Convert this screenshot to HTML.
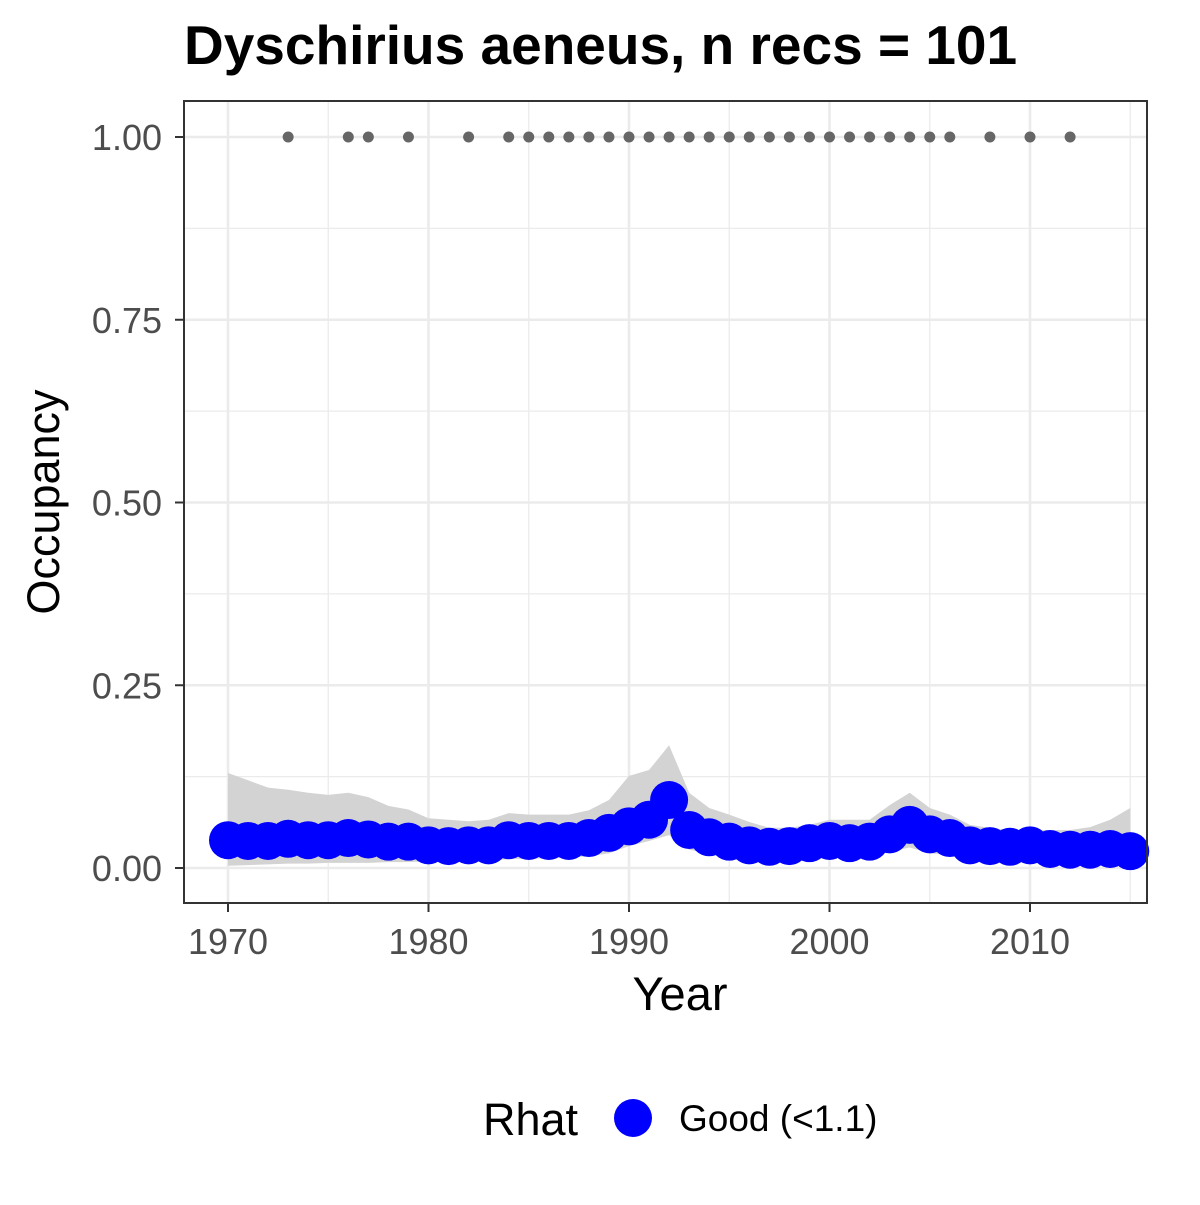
<!DOCTYPE html>
<html><head><meta charset="utf-8"><style>
body{margin:0;background:#fff}
svg text{font-family:"Liberation Sans",Arial,sans-serif}
</style></head><body>
<svg id="chart" width="1200" height="1200" xmlns="http://www.w3.org/2000/svg">
<rect width="1200" height="1200" fill="#fff"/>
<text x="184" y="64" font-size="55" font-weight="bold" fill="#000">Dyschirius aeneus, n recs = 101</text>
<g id="grid"></g>
<g id="band"></g>
<g id="raw"></g>
<g id="pts"></g>
<rect x="184" y="101" width="963" height="802" fill="none" stroke="#333" stroke-width="2"/>
<g id="axes"></g>
<text x="680" y="1010" font-size="47" text-anchor="middle">Year</text>
<text transform="translate(59,502) rotate(-90)" font-size="45" text-anchor="middle">Occupancy</text>
<g>
<text x="483" y="1135" font-size="45">Rhat</text>
<circle cx="633" cy="1118" r="19" fill="#0000ff"/>
<text x="679" y="1131" font-size="37">Good (&lt;1.1)</text>
</g>
</svg>
<script>
const years=[];for(let y=1970;y<=2015;y++)years.push(y);
const occupancy=[0.038,0.037,0.037,0.040,0.038,0.038,0.041,0.039,0.036,0.036,0.031,0.030,0.031,0.031,0.038,0.037,0.037,0.037,0.041,0.048,0.057,0.066,0.093,0.052,0.042,0.036,0.031,0.029,0.030,0.034,0.037,0.034,0.036,0.046,0.059,0.046,0.041,0.031,0.030,0.029,0.031,0.026,0.025,0.025,0.026,0.023];
const upper=[0.130,0.120,0.110,0.107,0.103,0.100,0.103,0.097,0.085,0.080,0.068,0.066,0.064,0.066,0.075,0.073,0.073,0.073,0.079,0.093,0.126,0.134,0.168,0.103,0.082,0.073,0.063,0.055,0.055,0.059,0.066,0.066,0.066,0.086,0.103,0.082,0.073,0.059,0.055,0.052,0.052,0.052,0.052,0.056,0.066,0.082];
const lower=[0.003,0.004,0.005,0.006,0.006,0.007,0.007,0.007,0.008,0.008,0.009,0.009,0.010,0.010,0.012,0.013,0.013,0.014,0.016,0.020,0.030,0.037,0.045,0.025,0.020,0.018,0.016,0.015,0.015,0.017,0.018,0.018,0.019,0.022,0.028,0.020,0.018,0.014,0.013,0.013,0.013,0.012,0.012,0.012,0.012,0.012];
const rawYears=[1973,1976,1977,1979,1982,1984,1985,1986,1987,1988,1989,1990,1991,1992,1993,1994,1995,1996,1997,1998,1999,2000,2001,2002,2003,2004,2005,2006,2008,2010,2012];
const xTicks=[1970,1980,1990,2000,2010];
const yTicks=[0,0.25,0.5,0.75,1];
const yTickLabels=["0.00","0.25","0.50","0.75","1.00"];
const X=v=>228+(v-1970)*20.05;
const Y=v=>868-v*731;
const NS="http://www.w3.org/2000/svg";
function mk(p,t,a){const e=document.createElementNS(NS,t);for(const k in a)e.setAttribute(k,a[k]);document.getElementById(p).appendChild(e);return e;}
for(let v=1965;v<=2015;v+=5){const x=X(v);if(x<184||x>1147)continue;const e=mk('grid','line',{x1:x,x2:x,y1:101,y2:903,stroke:'#ebebeb','stroke-width':v%10==0?2.6:1.3});

}
for(let v=0;v<=1.001;v+=0.125){const y=Y(v);const e=mk('grid','line',{x1:184,x2:1147,y1:y,y2:y,stroke:'#ebebeb','stroke-width':Math.round(v*8)%2==0?2.6:1.3});

}
let d='M'+years.map((y,i)=>X(y)+','+Y(upper[i])).join('L');
for(let i=years.length-1;i>=0;i--)d+='L'+X(years[i])+','+Y(lower[i]);
const b=mk('band','path',{d:d+'Z',fill:'#d3d3d3'});


rawYears.forEach(y=>{const c=mk('raw','circle',{cx:X(y),cy:Y(1),r:5.5,fill:'#666'});

});
years.forEach((y,i)=>{const c=mk('pts','circle',{cx:X(y),cy:Y(occupancy[i]),r:19,fill:'#0000ff'});

});
xTicks.forEach(v=>{const l=mk('axes','line',{x1:X(v),x2:X(v),y1:903,y2:912,stroke:'#333','stroke-width':2});


const t=mk('axes','text',{x:X(v),y:954,'font-size':36,fill:'#4d4d4d','text-anchor':'middle'});t.textContent=v;

});
yTicks.forEach((v,i)=>{const l=mk('axes','line',{x1:175,x2:184,y1:Y(v),y2:Y(v),stroke:'#333','stroke-width':2});


const t=mk('axes','text',{x:162,y:Y(v)+13,'font-size':36,fill:'#4d4d4d','text-anchor':'end'});t.textContent=yTickLabels[i];

});
</script>
</body></html>
